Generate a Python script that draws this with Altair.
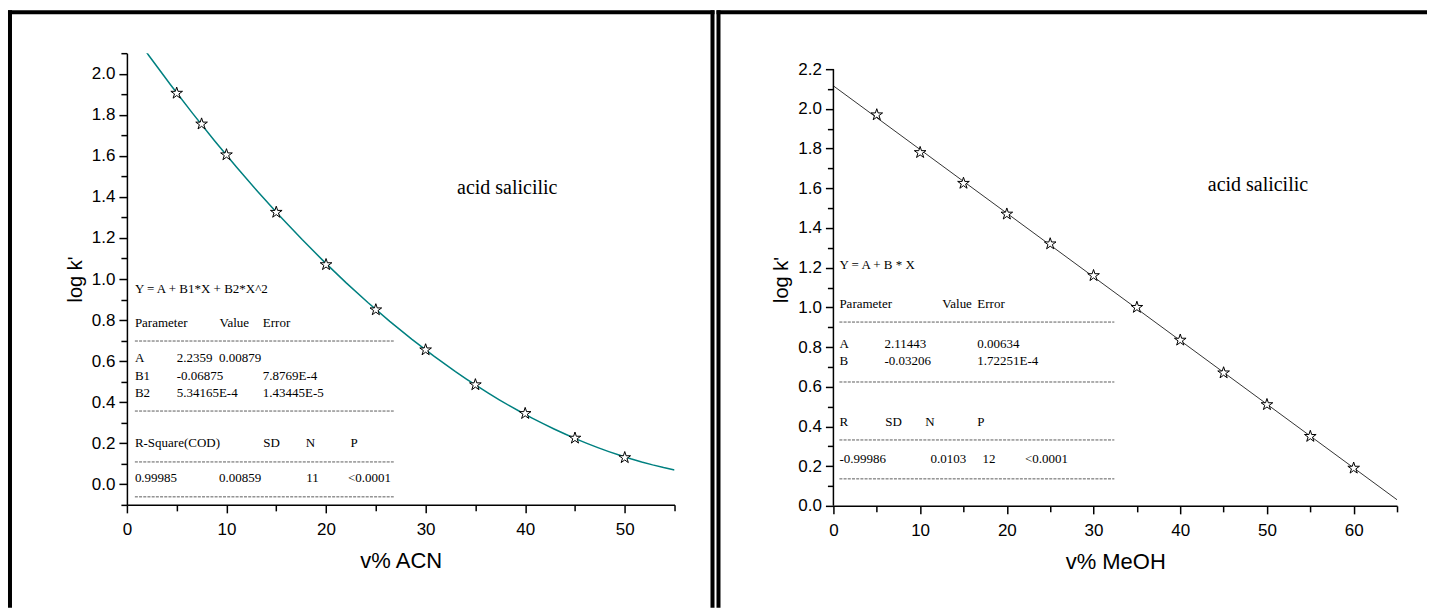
import altair as alt
import pandas as pd

# ---------------- data ----------------
acn_x = [5, 7.5, 10, 15, 20, 25, 30, 35, 40, 45, 50]
acn_logk = [1.905, 1.755, 1.605, 1.325, 1.07, 0.85, 0.655, 0.485, 0.345, 0.225, 0.13]

meoh_x = [5, 10, 15, 20, 25, 30, 35, 40, 45, 50, 55, 60]
meoh_logk = [1.97, 1.78, 1.625, 1.47, 1.32, 1.16, 1.0, 0.835, 0.67, 0.51, 0.35, 0.19]

acn_xticks = [0, 5, 10, 15, 20, 25, 30, 35, 40, 45, 50, 55]
acn_yticks = [-0.1, 0.0, 0.1, 0.2, 0.3, 0.4, 0.5, 0.6, 0.7, 0.8, 0.9, 1.0,
              1.1, 1.2, 1.3, 1.4, 1.5, 1.6, 1.7, 1.8, 1.9, 2.0, 2.1]
meoh_xticks = [0, 5, 10, 15, 20, 25, 30, 35, 40, 45, 50, 55, 60, 65]
meoh_yticks = [0.0, 0.1, 0.2, 0.3, 0.4, 0.5, 0.6, 0.7, 0.8, 0.9, 1.0, 1.1,
               1.2, 1.3, 1.4, 1.5, 1.6, 1.7, 1.8, 1.9, 2.0, 2.1, 2.2]

# fit-report texts (text, x, y in data units)
acn_text = ["Y = A + B1*X + B2*X^2",
            "Parameter", "Value", "Error",
            "A", "2.2359", "0.00879",
            "B1", "-0.06875", "7.8769E-4",
            "B2", "5.34165E-4", "1.43445E-5",
            "R-Square(COD)", "SD", "N", "P",
            "0.99985", "0.00859", "11", "<0.0001"]
acn_text_x = [0.8,
              0.8, 9.3, 13.65,
              0.8, 5.0, 9.25,
              0.8, 5.0, 13.65,
              0.8, 5.0, 13.65,
              0.8, 13.7, 17.95, 22.45,
              0.8, 9.25, 18.0, 22.2]
acn_text_y = [0.951,
              0.786, 0.786, 0.786,
              0.615, 0.615, 0.615,
              0.528, 0.528, 0.528,
              0.445, 0.445, 0.445,
              0.202, 0.202, 0.202, 0.202,
              0.031, 0.031, 0.031, 0.031]
acn_dash_y = [0.698, 0.357, 0.109, -0.061]
acn_dash_x = [0.8, 26.8]

meoh_text = ["Y = A + B * X",
             "Parameter", "Value", "Error",
             "A", "2.11443", "0.00634",
             "B", "-0.03206", "1.72251E-4",
             "R", "SD", "N", "P",
             "-0.99986", "0.0103", "12", "<0.0001"]
meoh_text_x = [0.69,
               0.69, 12.56, 16.6,
               0.69, 5.88, 16.6,
               0.69, 5.88, 16.6,
               0.69, 5.99, 10.6, 16.6,
               0.69, 11.2, 17.2, 22.1]
meoh_text_y = [1.213,
               1.017, 1.017, 1.017,
               0.816, 0.816, 0.816,
               0.730, 0.730, 0.730,
               0.423, 0.423, 0.423, 0.423,
               0.237, 0.237, 0.237, 0.237]
meoh_dash_y = [0.926, 0.624, 0.332, 0.136]
meoh_dash_x = [0.69, 32.4]

label_text = "acid salicilic"
acn_label_pos = (38.2, 1.443)
meoh_label_pos = (48.96, 1.616)

STAR = ("M0,-1L0.223,-0.307L0.951,-0.309L0.361,0.117L0.588,0.809L0,0.38"
        "L-0.588,0.809L-0.361,0.117L-0.951,-0.309L-0.223,-0.307Z")

SERIF = "Liberation Serif"
SANS = "Liberation Sans"

# ---------------- helpers ----------------
def panel(px, py, xticks, yticks, xdom, ydom, xtitle, texts, tx, ty,
          dash_y, dash_x, lab_pos, fit, line_color, line_width, w, h,
          frame, ydomain_line):
    xs = alt.Scale(domain=xdom, nice=False, zero=False)
    ys = alt.Scale(domain=ydom, nice=False, zero=False)
    x_axis = alt.Axis(values=xticks, title=xtitle,
                      labelExpr="datum.value % 10 == 0 ? datum.label : ''",
                      tickSize={"condition": {"test": "datum.value % 10 == 0", "value": 8}, "value": 6},
                      labelPadding=9, titlePadding=13, titleFontSize=22)
    y_axis = alt.Axis(values=yticks, title="log k'", format=".1f",
                      labelExpr="round(datum.value * 10) % 2 == 0 ? datum.label : ''",
                      tickSize={"condition": {"test": "round(datum.value * 10) % 2 == 0", "value": 8}, "value": 6},
                      labelPadding=4, titlePadding=6, titleFontSize=20,
                      domain=not ydomain_line)

    def X(f="x"):
        return alt.X(f + ":Q", scale=xs, axis=x_axis, title=xtitle)

    def Y(f="y"):
        return alt.Y(f + ":Q", scale=ys, axis=y_axis, title="log k'")

    pts = pd.DataFrame({"x": px, "y": py})
    layers = []
    if fit == "poly":
        reg = alt.Chart(pts).transform_regression("x", "y", method="poly", order=2,
                                                   extent=[xdom[0], xdom[1]])
    else:
        reg = alt.Chart(pts).transform_regression("x", "y", method="linear",
                                                   extent=[xdom[0], xdom[1]])
    layers.append(reg.mark_line(color=line_color, strokeWidth=line_width, clip=True)
                  .encode(x=X(), y=Y()))
    layers.append(alt.Chart(pts).mark_point(shape=STAR, size=150, filled=True,
                                            fill="white", stroke="black",
                                            strokeWidth=1, opacity=1)
                  .encode(x=X(), y=Y()))
    tdf = pd.DataFrame({"t": texts, "x": tx, "y": ty})
    layers.append(alt.Chart(tdf).mark_text(align="left", baseline="middle",
                                           font=SERIF, fontSize=13, color="black")
                  .encode(x=X(), y=Y(), text="t:N"))
    ddf = pd.DataFrame({"y": dash_y, "x": [dash_x[0]] * len(dash_y),
                        "x2": [dash_x[1]] * len(dash_y)})
    layers.append(alt.Chart(ddf).mark_rule(strokeDash=[3, 1.2], strokeWidth=0.8,
                                           color="#333333")
                  .encode(x=X(), x2="x2:Q", y=Y()))
    ldf = pd.DataFrame({"t": [label_text], "x": [lab_pos[0]], "y": [lab_pos[1]]})
    layers.append(alt.Chart(ldf).mark_text(align="center", baseline="middle",
                                           font=SERIF, fontSize=20, color="black")
                  .encode(x=X(), y=Y(), text="t:N"))
    if ydomain_line:
        adf = pd.DataFrame({"x": [0], "y": [0.0], "y2": [2.2]})
        layers.append(alt.Chart(adf).mark_rule(color="black", strokeWidth=1.5)
                      .encode(x=X(), y=Y(), y2="y2:Q"))
    one = pd.DataFrame({"k": [0]})
    for (x1, x2, y1, y2) in frame:
        if x2 is None:
            enc = dict(x=alt.value(x1), y=alt.value(y1), y2=alt.value(y2))
        else:
            enc = dict(x=alt.value(x1), x2=alt.value(x2), y=alt.value(y1))
        layers.append(alt.Chart(one).mark_rule(color="black", strokeWidth=4,
                                               strokeCap="butt").encode(**enc))
    return alt.layer(*layers).properties(width=w, height=h)


left = panel(acn_x, acn_logk, acn_xticks, acn_yticks, [0, 55], [-0.1, 2.1],
             "v% ACN", acn_text, acn_text_x, acn_text_y, acn_dash_y, acn_dash_x,
             acn_label_pos, "poly", "#008080", 1.5, 548, 452,
             [(-119, 588, -41, None), (-117, None, -43, 555), (586, None, -43, 555)],
             False)

right = panel(meoh_x, meoh_logk, meoh_xticks, meoh_yticks, [0, 65], [0.0, 2.2806],
              "v% MeOH", meoh_text, meoh_text_x, meoh_text_y, meoh_dash_y, meoh_dash_x,
              meoh_label_pos, "linear", "#333333", 1.0, 564, 453,
              [(-117, 594, -41, None), (-115, None, -43, 555)],
              True)

chart = alt.hconcat(left, right, spacing=159, bounds="flush").properties(
    padding={"left": 6, "top": 8, "right": 0, "bottom": 0},
    background="white",
).configure_view(strokeWidth=0).configure_axis(
    grid=False, domainColor="black", domainWidth=1.5, tickColor="black",
    tickWidth=1.5, labelFont=SANS, labelFontSize=17, labelColor="black",
    titleFont=SANS, titleFontWeight="normal", titleColor="black",
    labelOverlap=False, labelFlush=False,
)

chart.save("out.html", embed_options={"renderer": "svg", "actions": False})
